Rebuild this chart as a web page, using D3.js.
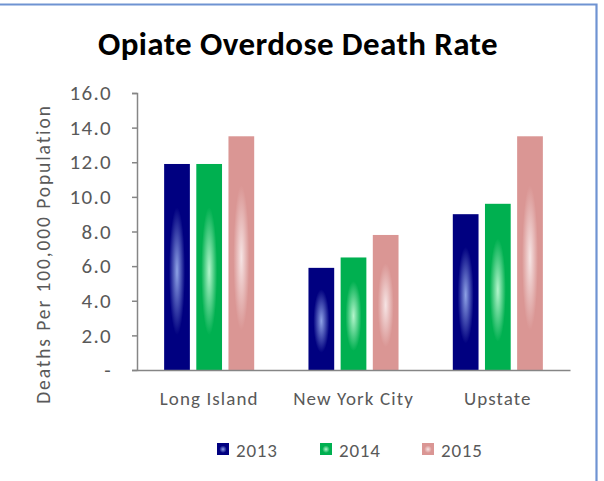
<!DOCTYPE html>
<html>
<head>
<meta charset="utf-8">
<script src="https://cdn.jsdelivr.net/npm/d3@7"></script>
<style>
  body { margin: 0; background: #fff; }
  svg { display: block; font-family: Calibri, Carlito, Lato, sans-serif; }
</style>
</head>
<body>
<script>
const regions = ['Long Island', 'New York City', 'Upstate'];
const years = ['2013', '2014', '2015'];
const rates2013 = [11.9, 5.9, 9.0];
const rates2014 = [11.9, 6.5, 9.6];
const rates2015 = [13.5, 7.8, 13.5];
const yTicks = [0, 2, 4, 6, 8, 10, 12, 14, 16];

const seriesValues = [rates2013, rates2014, rates2015];
const colors = ['#000080', '#00b050', '#da9694'];
const glows = ['#8ea2e6', '#b4f5cc', '#f6e4e4'];

const w = 604;
const h = 481;
const plotLeft = 137;
const plotRight = 570;
const plotTop = 93;
const plotBottom = 370;
const labelFont = 'Calibri, Carlito, Lato, sans-serif';

const svg = d3.select('body')
  .append('svg')
  .attr('width', w)
  .attr('height', h);

// bar shine, roughly like the Excel gradient fill
const defs = svg.append('defs');
colors.forEach((c, i) => {
  const g = defs.append('radialGradient')
    .attr('id', 'shine' + i)
    .attr('cx', 0.5)
    .attr('cy', 0.52)
    .attr('r', 0.5);
  g.append('stop').attr('offset', '0%').attr('stop-color', glows[i]);
  g.append('stop').attr('offset', '62%').attr('stop-color', c);
  g.append('stop').attr('offset', '100%').attr('stop-color', c);
});

const x0 = d3.scaleBand()
  .domain(regions)
  .range([plotLeft, plotRight])
  .paddingInner(0.376)
  .paddingOuter(0.188);

const x1 = d3.scaleBand()
  .domain(years)
  .range([0, x0.bandwidth()])
  .paddingInner(0.2);

const yScale = d3.scaleLinear()
  .domain([0, 16])
  .range([plotBottom, plotTop]);

// title
svg.append('text')
  .attr('x', 298)
  .attr('y', 55)
  .attr('text-anchor', 'middle')
  .attr('font-size', 33)
  .attr('font-weight', 'bold')
  .attr('letter-spacing', 0.4)
  .attr('fill', '#000')
  .text('Opiate Overdose Death Rate');

// bars
const groups = svg.selectAll('g.region')
  .data(regions)
  .enter()
  .append('g')
  .attr('class', 'region')
  .attr('transform', (d) => 'translate(' + x0(d) + ',0)');

groups.selectAll('rect')
  .data((d, ri) => years.map((yr, si) => ({ yr: yr, si: si, v: seriesValues[si][ri] })))
  .enter()
  .append('rect')
  .attr('x', (d) => x1(d.yr))
  .attr('y', (d) => yScale(d.v))
  .attr('width', x1.bandwidth())
  .attr('height', (d) => plotBottom - yScale(d.v))
  .attr('fill', (d) => 'url(#shine' + d.si + ')');

// y axis
const yAxis = d3.axisLeft(yScale)
  .tickValues(yTicks)
  .tickSize(5)
  .tickPadding(20)
  .tickFormat((d) => d === 0 ? '-' : d3.format('.1f')(d));

const ya = svg.append('g')
  .attr('transform', 'translate(' + plotLeft + ', 0)')
  .call(yAxis);
ya.select('.domain').attr('stroke', '#868686').attr('stroke-width', 1.5);
ya.selectAll('.tick line').attr('stroke', '#868686').attr('stroke-width', 1.5);
ya.selectAll('.tick text')
  .attr('fill', '#595959')
  .attr('font-size', 21)
  .attr('letter-spacing', 1.3)
  .attr('font-family', labelFont);

// x axis
const xAxis = d3.axisBottom(x0).tickSize(0).tickPadding(22);
const xa = svg.append('g')
  .attr('transform', 'translate(0, ' + plotBottom + ')')
  .call(xAxis);
xa.select('.domain').attr('stroke', '#868686').attr('stroke-width', 1.5);
xa.selectAll('.tick text')
  .attr('fill', '#595959')
  .attr('font-size', 19)
  .attr('letter-spacing', 1.1)
  .attr('font-family', labelFont);

// y axis title
svg.append('text')
  .attr('transform', 'translate(50, 254) rotate(-90)')
  .attr('text-anchor', 'middle')
  .attr('font-size', 19.5)
  .attr('letter-spacing', 1.9)
  .attr('fill', '#595959')
  .text('Deaths Per 100,000 Population');

// legend
const legendX = [217, 320, 422];
const legend = svg.selectAll('g.legend')
  .data(years)
  .enter()
  .append('g')
  .attr('class', 'legend')
  .attr('transform', (d, i) => 'translate(' + legendX[i] + ', 443)');

legend.append('rect')
  .attr('width', 12)
  .attr('height', 12)
  .attr('fill', (d, i) => 'url(#shine' + i + ')');

legend.append('text')
  .attr('x', 19)
  .attr('y', 13.5)
  .attr('font-size', 19)
  .attr('letter-spacing', 0.8)
  .attr('fill', '#595959')
  .text((d) => d);

// chart area border (top and right edges visible)
svg.append('path')
  .attr('d', 'M0,4.5 H596.5 V' + h)
  .attr('fill', 'none')
  .attr('stroke', '#6f93d2')
  .attr('stroke-width', 2.2);
</script>
</body>
</html>
